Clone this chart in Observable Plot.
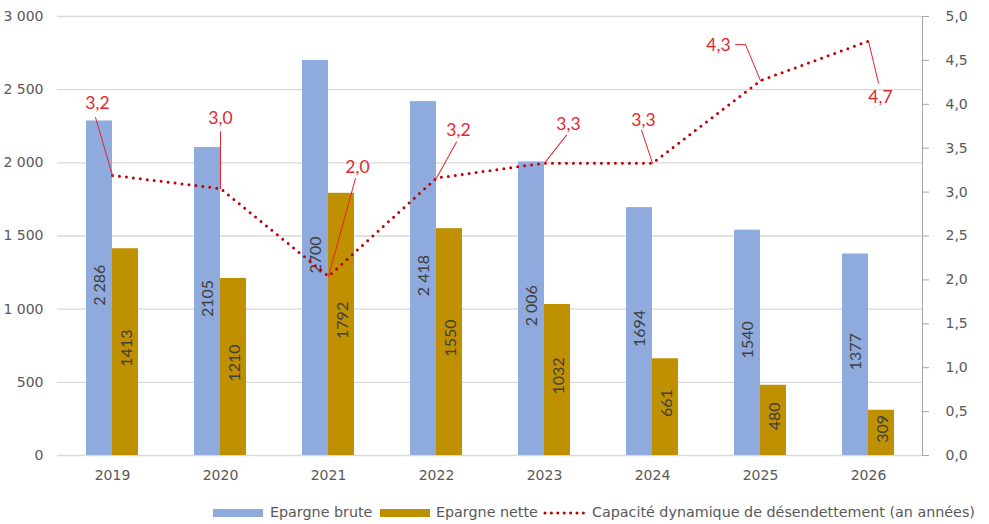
<!DOCTYPE html>
<html><head><meta charset="utf-8">
<script src="https://cdn.jsdelivr.net/npm/d3@7"></script>
<script src="https://cdn.jsdelivr.net/npm/@observablehq/plot@0.6"></script>
<style>
body{margin:0;background:#fff;}
#legend{position:relative;width:989px;height:29px;font-family:"DejaVu Sans",sans-serif;font-size:14.3px;color:#595959;}
#legend .sw{position:absolute;top:14px;width:50px;height:8px;}
#legend .tx{position:absolute;top:9px;line-height:16px;white-space:nowrap;}
#legend svg{position:absolute;top:14px;}
</style></head><body>
<div id="chart"></div>
<div id="legend"></div>
<script>
// ---- data ----
const years = ["2019","2020","2021","2022","2023","2024","2025","2026"];
const epargneBrute = [2286, 2105, 2700, 2418, 2006, 1694, 1540, 1377];
const epargneNette = [1413, 1210, 1792, 1550, 1032, 661, 480, 309];
const bruteLabels = ["2 286","2105","2700","2 418","2 006","1694","1540","1377"];
const netteLabels = ["1413","1210","1792","1550","1032","661","480","309"];
const capacite = [3.19, 3.04, 2.04, 3.16, 3.33, 3.33, 4.27, 4.72];
const leftTicks = [0, 500, 1000, 1500, 2000, 2500, 3000];
const rightTicks = [0, 0.5, 1, 1.5, 2, 2.5, 3, 3.5, 4, 4.5, 5];
const seriesNames = ["Epargne brute", "Epargne nette", "Capacité dynamique de désendettement (an années)"];

// ---- annotation placement (pixels, relative to each line point) ----
const labelOffsets = [[-15,-72],[0,-70],[29,-109],[22,-48],[24,-39],[-9,-43],[-42,-35],[12,56]];
const leaderEnds = [[-17,-58],[0,-57],[27,-98],[20,-36],[22,-28],[-11,-33],[-15,-36],[10,42]];

const BLUE = "#8FAADC", GOLD = "#BF9000", RED = "#C00000", LABELRED = "#E3262E";
const RATIO = 3000 / 5; // right axis (years) -> left axis units

const fr = d3.formatLocale({decimal: ",", thousands: "\u00a0", grouping: [3], currency: ["", ""]});
const fmtInt = fr.format(",d");
const fmtDec = d => d.toFixed(1).replace(".", ",");

const rows = years.map((year, i) => ({
  year,
  brute: epargneBrute[i],
  nette: epargneNette[i],
  bruteLabel: bruteLabels[i],
  netteLabel: netteLabels[i],
  cap: capacite[i],
  capY: capacite[i] * RATIO,
  capLabel: fmtDec(capacite[i])
}));

const lineShape = {draw(context, l) { context.moveTo(0, 0); context.lineTo(0, -l); }};

const leaderMarks = rows.flatMap((r, i) => {
  const [lx, ly] = leaderEnds[i];
  const m = [Plot.vector([r], {
    x: "year", y: "capY", anchor: "start", shape: lineShape,
    length: Math.hypot(lx, ly), rotate: Math.atan2(lx, -ly) * 180 / Math.PI,
    stroke: LABELRED, strokeWidth: 1
  })];
  if (i === 6) {
    m.push(Plot.vector([r], {
      x: "year", y: "capY", anchor: "start", shape: lineShape,
      length: 10, rotate: -90, dx: lx, dy: ly, stroke: LABELRED, strokeWidth: 1
    }));
  }
  return m;
});

const labelMarks = rows.map((r, i) => Plot.text([r], {
  x: "year", y: "capY", text: "capLabel",
  dx: labelOffsets[i][0], dy: labelOffsets[i][1],
  fill: LABELRED, fontSize: 17.5, fontFamily: "Lato", lineAnchor: "middle"
}));

const chart = Plot.plot({
  width: 989, height: 495,
  marginLeft: 57, marginRight: 67, marginTop: 16, marginBottom: 40,
  style: {fontFamily: "DejaVu Sans", fontSize: "14px", color: "#595959", background: "#fff"},
  x: {domain: years, padding: 0, label: null},
  y: {domain: [0, 3000], label: null},
  marks: [
    Plot.gridY(leftTicks, {stroke: "#d9d9d9", strokeOpacity: 1, strokeWidth: 1.3}),
    Plot.barY(rows, {x: "year", y: "brute", fill: BLUE, insetLeft: 28, insetRight: 54}),
    Plot.barY(rows, {x: "year", y: "nette", fill: GOLD, insetLeft: 54, insetRight: 28}),
    Plot.text(rows, {x: "year", y: d => d.brute / 2, text: "bruteLabel", rotate: -90, dx: -13, dy: -3,
      fill: "#404040", fontSize: 16, fontFamily: "Lato", lineAnchor: "middle"}),
    Plot.text(rows, {x: "year", y: d => d.nette / 2, text: "netteLabel", rotate: -90, dx: 14, dy: -4,
      fill: "#404040", fontSize: 16, fontFamily: "Lato", lineAnchor: "middle"}),
    Plot.line(rows, {x: "year", y: "capY", stroke: RED, strokeWidth: 3, strokeDasharray: "0 7", strokeLinecap: "round"}),
    ...leaderMarks,
    ...labelMarks,
    Plot.axisY(leftTicks, {anchor: "left", tickSize: 0, tickPadding: 14, tickFormat: fmtInt, fontSize: 14}),
    Plot.axisY(rightTicks.map(d => d * RATIO), {anchor: "right", tickSize: 6, tickPadding: 17,
      tickFormat: d => fmtDec(d / RATIO), stroke: "#a6a6a6", fontSize: 14}),
    Plot.axisX({tickSize: 0, tickPadding: 15, fontSize: 14}),
    Plot.frame({anchor: "right", stroke: "#a6a6a6"})
  ]
});
document.getElementById("chart").appendChild(chart);

// ---- legend ----
const legend = document.getElementById("legend");
legend.innerHTML = `
  <div class="sw" style="left:213px;background:${BLUE}"></div>
  <div class="tx" style="left:270px">${seriesNames[0]}</div>
  <div class="sw" style="left:380px;background:${GOLD}"></div>
  <div class="tx" style="left:436px">${seriesNames[1]}</div>
  <svg width="44" height="8" style="left:543px"><line x1="2" x2="42" y1="4" y2="4" stroke="${RED}" stroke-width="3" stroke-dasharray="0 6.4" stroke-linecap="round"/></svg>
  <div class="tx" style="left:592px">${seriesNames[2]}</div>`;
</script>
</body></html>
